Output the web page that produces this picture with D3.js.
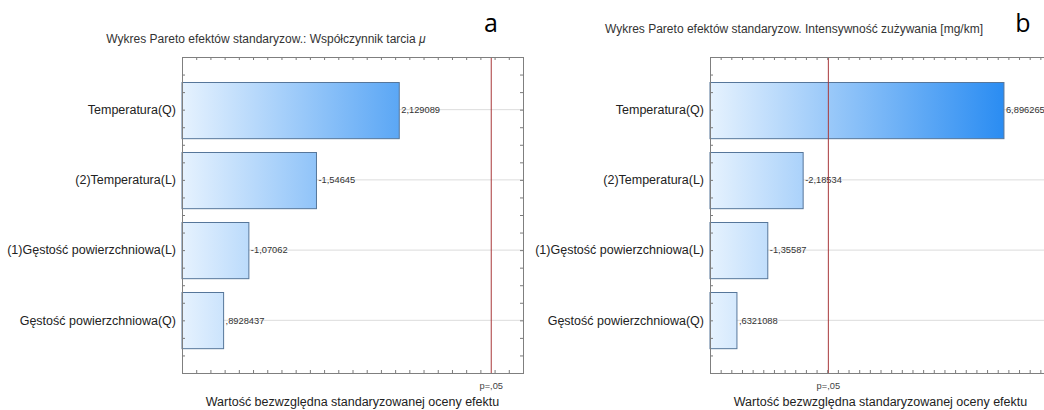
<!DOCTYPE html>
<html>
<head>
<meta charset="utf-8">
<script src="https://cdn.jsdelivr.net/npm/d3@7"></script>
<style>
  html, body { margin: 0; padding: 0; background: #fff; }
  svg { display: block; font-family: "Liberation Sans", Arial, sans-serif; }
</style>
</head>
<body>
<svg id="chart" width="1044" height="410"></svg>
<script>
// Effects (terms of the fitted model) shown on both Pareto charts
const categories = [
  "Temperatura(Q)",
  "(2)Temperatura(L)",
  "(1)Gęstość powierzchniowa(L)",
  "Gęstość powierzchniowa(Q)"
];

// Standardised effect estimates (t values)
const frictionEffects = [2.129089, -1.54645, -1.07062, 0.8928437];
const wearEffects = [6.896265, -2.18534, -1.35587, 0.6321088];

// Critical |t| for p = 0.05
const criticalT = 2.776445;
const criticalLabel = "p=,05";

// Horizontal axis ranges and minor tick steps
const frictionAxis = [0.6, 3.0];
const frictionTickStep = 0.1;
const wearAxis = [0, 8];
const wearTickStep = 0.25;

const frictionTitle = "Wykres Pareto efektów standaryzow.: Współczynnik tarcia ";
const wearTitle = "Wykres Pareto efektów standaryzow. Intensywność zużywania [mg/km]";
const xAxisTitle = "Wartość bezwzględna standaryzowanej oceny efektu";

const panels = [
  { id: "a", title: frictionTitle, mu: true, values: frictionEffects,
    axis: frictionAxis, step: frictionTickStep, left: 182, titleY: 43, letterX: 491 },
  { id: "b", title: wearTitle, mu: false, values: wearEffects,
    axis: wearAxis, step: wearTickStep, left: 710, titleY: 33, letterX: 1023 }
];

const plotW = 341, plotTop = 57, plotBottom = 373;

// Statistica style number text: decimal comma, no leading zero
const fmt = v => String(v).replace(".", ",").replace(/^(-?)0,/, "$1,");

const svg = d3.select("#chart");
const defs = svg.append("defs");

panels.forEach(p => {
  const x = d3.scaleLinear().domain(p.axis).range([p.left, p.left + plotW]);
  const y = d3.scaleLinear().domain([0.25, categories.length + 0.75]).range([plotTop, plotBottom]);
  const g = svg.append("g").attr("class", "panel-" + p.id);

  // gradient spanning the whole plot width
  const grad = defs.append("linearGradient")
    .attr("id", "bar-grad-" + p.id)
    .attr("gradientUnits", "userSpaceOnUse")
    .attr("x1", p.left).attr("x2", p.left + plotW)
    .attr("y1", 0).attr("y2", 0);
  grad.append("stop").attr("offset", 0).attr("stop-color", "#e6f2fe");
  grad.append("stop").attr("offset", 1).attr("stop-color", "#0c7cf0");

  // plot background
  g.append("rect")
    .attr("x", p.left).attr("y", plotTop)
    .attr("width", plotW).attr("height", plotBottom - plotTop)
    .attr("fill", "#fff");

  // horizontal grid lines at each effect
  g.selectAll(".grid").data(categories).join("line")
    .attr("x1", p.left).attr("x2", p.left + plotW)
    .attr("y1", (d, i) => y(i + 1)).attr("y2", (d, i) => y(i + 1))
    .attr("stroke", "#dcdcdc").attr("stroke-width", 1);

  // bars
  const bandH = y(1.4) - y(1);
  g.selectAll(".bar").data(p.values).join("rect")
    .attr("x", x(p.axis[0]))
    .attr("y", (d, i) => Math.round(y(i + 1) - bandH) + 0.5)
    .attr("width", d => x(Math.abs(d)) - x(p.axis[0]))
    .attr("height", bandH * 2)
    .attr("fill", `url(#bar-grad-${p.id})`)
    .attr("stroke", "#56769a").attr("stroke-width", 1);

  // value labels
  g.selectAll(".val").data(p.values).join("text")
    .attr("x", d => x(Math.abs(d)) + 2)
    .attr("y", (d, i) => y(i + 1))
    .attr("dy", "0.35em")
    .attr("font-size", 9.3)
    .attr("fill", "#333")
    .text(d => fmt(d));

  // critical value line
  g.append("line")
    .attr("x1", x(criticalT)).attr("x2", x(criticalT))
    .attr("y1", plotTop).attr("y2", plotBottom)
    .attr("stroke", "#a8383a").attr("stroke-width", 1);

  g.append("text")
    .attr("x", x(criticalT)).attr("y", 389)
    .attr("text-anchor", "middle")
    .attr("font-size", 9.3).attr("fill", "#444")
    .text(criticalLabel);

  // inward minor ticks on all sides
  const lo = Math.round(p.axis[0] / p.step), hi = Math.round(p.axis[1] / p.step);
  const xTicks = d3.range(lo + 1, hi).map(k => k * p.step);
  const yTicks = d3.range(2, (categories.length + 0.75) * 4).map(k => k / 4);

  const styleAxis = sel => {
    sel.select(".domain").remove();
    sel.selectAll(".tick line").attr("stroke", "#7a7a7a");
  };
  g.append("g").attr("transform", `translate(0,${plotBottom})`)
    .call(d3.axisBottom(x).tickValues(xTicks).tickSize(-3).tickFormat("")).call(styleAxis);
  g.append("g").attr("transform", `translate(0,${plotTop})`)
    .call(d3.axisTop(x).tickValues(xTicks).tickSize(-3).tickFormat("")).call(styleAxis);
  g.append("g").attr("transform", `translate(${p.left},0)`)
    .call(d3.axisLeft(y).tickValues(yTicks).tickSize(-3).tickFormat("")).call(styleAxis);
  g.append("g").attr("transform", `translate(${p.left + plotW},0)`)
    .call(d3.axisRight(y).tickValues(yTicks).tickSize(-3).tickFormat("")).call(styleAxis);

  // frame
  g.append("rect")
    .attr("x", p.left + 0.5).attr("y", plotTop + 0.5)
    .attr("width", plotW).attr("height", plotBottom - plotTop)
    .attr("fill", "none").attr("stroke", "#7f7f7f").attr("stroke-width", 1);

  // category labels
  g.selectAll(".cat").data(categories).join("text")
    .attr("x", p.left - 6)
    .attr("y", (d, i) => y(i + 1))
    .attr("dy", "0.35em")
    .attr("text-anchor", "end")
    .attr("font-size", 12.5)
    .attr("fill", "#222")
    .text(d => d);

  // chart title
  const t = g.append("text")
    .attr("x", p.left + 84).attr("y", p.titleY)
    .attr("text-anchor", "middle")
    .attr("font-size", 12).attr("fill", "#333")
    .text(p.title);
  if (p.mu) t.append("tspan").attr("font-style", "italic").text("μ");

  // axis title
  g.append("text")
    .attr("x", p.left + plotW / 2).attr("y", 406)
    .attr("text-anchor", "middle")
    .attr("font-size", 12.5).attr("fill", "#222")
    .text(xAxisTitle);

  // panel letter
  g.append("text")
    .attr("x", p.letterX).attr("y", 32)
    .attr("text-anchor", "middle")
    .attr("font-family", "'Open Sans', 'Liberation Sans', sans-serif")
    .attr("font-size", 25).attr("fill", "#000")
    .text(p.id);
});
</script>
</body>
</html>
